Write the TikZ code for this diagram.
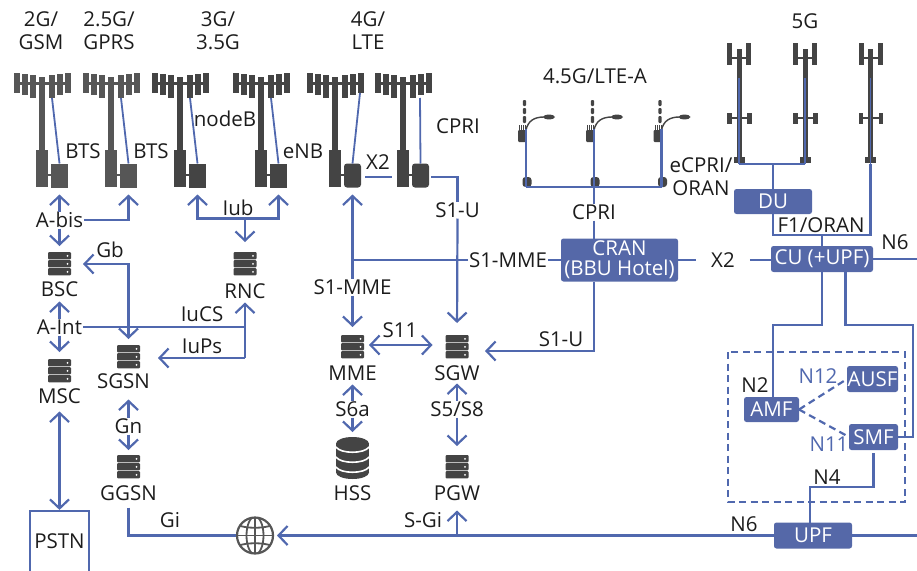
\documentclass[tikz,border=0pt]{standalone}
\usepackage{fontspec}
\setmainfont{Open Sans}
\usetikzlibrary{arrows.meta}
\definecolor{linkblue}{HTML}{5068AE}
\definecolor{boxblue}{HTML}{5568A8}
\definecolor{darkA}{HTML}{565656}
\definecolor{darkB}{HTML}{444444}
\definecolor{txtblack}{HTML}{1C1C1C}

\tikzset{
 link/.style={draw=linkblue,line width=2.2pt},
 lbl/.style={font=\fontsize{20.5}{24}\selectfont,text=txtblack,inner sep=1pt,outer sep=0pt,text height=14.5pt,text depth=0.5pt},
 ttl/.style={font=\fontsize{20.5}{23}\selectfont,text=txtblack,inner sep=0pt,align=center},
 blbl/.style={lbl,text=linkblue},
 fn/.style={fill=boxblue,rounded corners=2.5pt,text=white,inner sep=0pt,outer sep=0pt,font=\fontsize{20.5}{20}\selectfont,align=center},
 srv/.style={minimum width=23pt,minimum height=24pt,inner sep=0pt,outer sep=0pt,path picture={
   \foreach \k in {0,1,2}{
     \fill[darkB,rounded corners=1pt] ([shift={(-11.5,-12+8*\k)}]path picture bounding box.center) rectangle +(23,7.4);
     \fill[white] ([shift={(8,-8.2+8*\k)}]path picture bounding box.center) circle (1pt);
   }}},
 dbase/.style={minimum width=33pt,minimum height=42pt,inner sep=0pt,outer sep=0pt,path picture={
   \begin{scope}[shift={(path picture bounding box.center)}]
   \fill[darkB] (0,-14.5) ellipse (16.5pt and 6.5pt);
   \fill[darkB] (-16.5,-14.5) rectangle (16.5,14.5);
   \fill[darkB] (0,14.5) ellipse (16.5pt and 6.5pt);
   \foreach \h in {-11,-1,9}
     \draw[white,line width=1.6pt] (-16.5,\h) .. controls (-12,\h+7) and (12,\h+7) .. (16.5,\h);
   \end{scope}}},
 globeicon/.style={circle,draw=darkA,line width=2.2pt,minimum size=36pt,inner sep=0pt,outer sep=1pt,path picture={
   \begin{scope}[shift={(path picture bounding box.center)},darkA,line width=1.8pt]
   \draw (0,0) ellipse (8.5pt and 19pt);
   \draw (0,-19) -- (0,19);
   \draw (-19,0) -- (19,0);
   \draw (-16,-10) .. controls (-8,-7) and (8,-7) .. (16,-10);
   \draw (-16,10) .. controls (-8,7) and (8,7) .. (16,10);
   \end{scope}}},
 pics/macrotower/.style n args={2}{code={
   \fill[#1] (-3.3,4) rectangle (3.3,77);
   \fill[#1] (-6,77) rectangle (6,114);
   \fill[#1] (-28,9) rectangle (28,11.5);
   \fill[#1] (6,100.5) rectangle (10,102.5);
   \foreach \px in {-28,22.5}{\fill[#1] (\px,0) rectangle +(6,20);}
   \foreach \px in {-20,14.5}{\fill[#1] (\px,1) rectangle +(6,21);}
   \foreach \px in {-12.5,7}{\fill[#1] (\px,2) rectangle +(6,23);}
   \node[fill=#1,minimum width=17pt,minimum height=24pt,inner sep=0pt,outer sep=0pt,rounded corners=#2] (-box) at (17.5,102.5) {};
   \coordinate (-ant) at (10,25);
   \coordinate (-antb) at (17,25);
   \coordinate (-antc) at (25,20);
 }},
 pics/nrtower/.style={code={
   \fill[darkB] (-2.5,28) rectangle (2.5,120);
   \fill[darkB] (-2.5,6) rectangle (2.5,28);
   \fill[darkB] (-11.7,0) rectangle (-6.7,22);
   \fill[darkB] (7.3,0) rectangle (12.3,22);
   \fill[darkB] (-7,14) rectangle (7.5,16);
   \fill[darkB] (-12,70) rectangle (-7.3,81);
   \fill[darkB] (8,70) rectangle (12.7,81);
   \fill[darkB] (-7.5,74) rectangle (8,76);
   \fill[darkB] (-5.3,114) rectangle (5.7,120);
   \coordinate (-top) at (0,35);
   \coordinate (-base) at (0,121);
 }},
 pics/smallcell/.style={code={
   \fill[darkB,rounded corners=3pt] (-3.5,48) rectangle (5.5,58);
   \fill[darkB,rounded corners=1pt] (-8,1) rectangle (0,13);
   \foreach \px in {-7,-5,-3,-1}{\fill[darkB] (\px,-4) rectangle +(0.8,6);}
   \fill[darkB,rounded corners=1pt] (-3.2,-29) rectangle (0,-23);
   \fill[darkB,rounded corners=1pt] (-3.2,-21) rectangle (0,-15);
   \fill[darkB,rounded corners=1pt] (-3.2,-13) rectangle (0,-6);
   \draw[darkB,line width=1.4pt] (0,1) .. controls (2,-8) and (8,-12) .. (18,-12);
   \fill[darkB] (23,-12) ellipse (6pt and 2.4pt);
   \coordinate (-top) at (0,0);
   \coordinate (-base) at (0,58);
 }},
}

\begin{document}
\begin{tikzpicture}[x=1pt,y=-1pt,>={Straight Barb[length=9pt,width=19pt]}]
\useasboundingbox (0,0) rectangle (917,570);
%\draw[color=gray!20] (0,0) grid[step=100] (917,570);

% titles
\node[ttl] (ttlA) at (41,31) {2G/\\GSM};
\node[ttl] (ttlB) at (109,31) {2.5G/\\GPRS};
\node[ttl] (ttlC) at (218,31) {3G/\\3.5G};
\node[ttl] (ttlD) at (368,31) {4G/\\LTE};
\node[ttl] (ttlE) at (595,76) {4.5G/LTE-A};
\node[ttl] (ttlF) at (805,21) {5G};

% towers
\pic (btsA) at (42,73) {macrotower={darkA}{0pt}};
\pic (btsB) at (111,73) {macrotower={darkA}{0pt}};
\pic (nbA) at (180,73) {macrotower={darkB}{0pt}};
\pic (nbB) at (261,73) {macrotower={darkB}{0pt}};
\pic (enbA) at (335,73) {macrotower={darkB}{3pt}};
\pic (enbB) at (403,73) {macrotower={darkB}{3pt}};

\pic (scA) at (526,129) {smallcell};
\pic (scB) at (594,129) {smallcell};
\pic (scC) at (661.5,129) {smallcell};

\pic (nrA) at (739,43) {nrtower};
\pic (nrB) at (805,43) {nrtower};
\pic (nrC) at (870.5,43) {nrtower};

% feeders
\draw[link,line width=1.8pt] (btsA-ant) -- (btsA-box.north);
\draw[link,line width=1.8pt] (btsB-ant) -- (btsB-box.north);
\draw[link,line width=1.8pt] (nbA-ant) -- (nbA-box.north);
\draw[link,line width=1.8pt] (nbB-ant) -- (nbB-box.north);
\draw[link,line width=1.8pt] (enbA-antc) -- (enbA-box.north);
\draw[link,line width=1.8pt] (enbB-antb) -- (enbB-box.north);

% servers
\node[srv] (bsc) at (59.5,264) {};
\node[srv] (rnc) at (245,264) {};
\node[srv] (msc) at (59.5,371) {};
\node[srv] (sgsn) at (128.5,357) {};
\node[srv] (ggsn) at (128.5,467) {};
\node[srv] (mme) at (352.5,347) {};
\node[srv] (sgw) at (457,347) {};
\node[srv] (pgw) at (457,467) {};
\node[dbase] (hss) at (352.5,458) {};
\node[globeicon] (globe) at (255,535.5) {};

\node[lbl] (bsclbl) at (59.5,289) {BSC};
\node[lbl] (rnclbl) at (245,291) {RNC};
\node[lbl] (msclbl) at (59.5,396) {MSC};
\node[lbl] (sgsnlbl) at (123.5,381) {SGSN};
\node[lbl] (ggsnlbl) at (128.5,493) {GGSN};
\node[lbl] (mmelbl) at (352.5,373) {MME};
\node[lbl] (sgwlbl) at (457,373) {SGW};
\node[lbl] (pgwlbl) at (457,493) {PGW};
\node[lbl] (hsslbl) at (352.5,493) {HSS};
\node[draw=linkblue,line width=2.2pt,minimum width=59pt,minimum height=62pt,inner sep=0pt] (pstn) at (59.5,542) {};
\node[lbl] (pstnlbl) at (59.5,541) {PSTN};

% function boxes
\node[fn,minimum width=117pt,minimum height=43pt] (cran) at (619.5,260) {CRAN\\(BBU Hotel)};
\node[fn,minimum width=78pt,minimum height=25pt] (du) at (773,201.5) {DU};
\node[fn,minimum width=102pt,minimum height=26pt] (cu) at (822,259) {CU (+UPF)};
\node[fn,minimum width=55pt,minimum height=25pt] (amf) at (771.5,409.5) {AMF};
\node[fn,minimum width=51pt,minimum height=26pt] (ausf) at (872.5,379) {AUSF};
\node[fn,minimum width=49pt,minimum height=26pt] (smf) at (873.5,437) {SMF};
\node[fn,minimum width=78pt,minimum height=26pt] (upf) at (813,535.5) {UPF};

% interface labels
\node[lbl] (btslblA) at (83,151) {BTS};
\node[lbl] (btslblB) at (151,151) {BTS};
\node[lbl] (nodeb) at (225,119) {nodeB};
\node[lbl] (enblbl) at (303,151) {eNB};
\node[lbl] (cprilblA) at (458,126) {CPRI};
\node[lbl] (xtwoA) at (378,162) {X2};
\node[lbl] (abis) at (59.5,220) {A-bis};
\node[lbl] (iub) at (238,208) {Iub};
\node[lbl] (gb) at (110,250) {Gb};
\node[lbl] (aint) at (59.5,327) {A-Int};
\node[lbl] (iucs) at (202,314) {IuCS};
\node[lbl] (iups) at (202,346) {IuPs};
\node[lbl] (gn) at (128.5,426) {Gn};
\node[lbl] (gi) at (170,520) {Gi};
\node[lbl] (sonemmeA) at (352.5,287) {S1-MME};
\node[lbl] (sonemmeB) at (508,260) {S1-MME};
\node[lbl] (soneuA) at (457.5,210) {S1-U};
\node[lbl] (soneuB) at (561,339) {S1-U};
\node[lbl] (selev) at (400,330) {S11};
\node[lbl] (ssixa) at (352.5,409) {S6a};
\node[lbl] (sfive) at (457,409) {S5/S8};
\node[lbl] (sgi) at (423,520) {S-Gi};
\node[lbl] (cprilblB) at (594,212) {CPRI};
\node[lbl] (xtwoB) at (723,260) {X2};
\node[ttl] (ecpri) at (701,176.5) {eCPRI/\\ORAN};
\node[lbl] (fone) at (821,225) {F1/ORAN};
\node[lbl] (nsixA) at (895,242) {N6};
\node[lbl] (nsixB) at (744,524) {N6};
\node[lbl] (ntwo) at (755,385) {N2};
\node[lbl] (nfour) at (827,477) {N4};
\node[blbl] (ntwelve) at (818,376) {N12};
\node[blbl] (neleven) at (829,444) {N11};

% 2G and 3G links
\draw[link,->,shorten >=7pt] (abis.north) -- (btsA-box.south);
\draw[link,->,shorten >=6pt] (abis.south) -- (bsc.north);
\draw[link,->,shorten >=7pt] (abis.east) -| (btsB-box.south);
\coordinate (iubbus) at (245,218.5);
\draw[link,->,shorten >=7pt] (iubbus) -| (nbA-box.south);
\draw[link,->,shorten >=7pt] (iubbus) -| (nbB-box.south);
\draw[link,->,shorten >=10pt] (iubbus) -- (rnc.north);
\draw[link,<->,shorten <=12pt,shorten >=6pt] (bsc.east) -| (sgsn.north);
\draw[link,->,shorten >=4pt] (aint.north) -- (bsclbl.south);
\draw[link,->,shorten >=7pt] (aint.south) -- (msc.north);
\draw[link,->,shorten >=3pt] (aint.east) -| (rnclbl.south);
\coordinate (iupsbus) at (245,358);
\draw[link] (245,326) -- (iupsbus);
\draw[link,->,shorten >=18pt] (iupsbus) -- (iupsbus -| sgsn.east);
\draw[link,<->,shorten <=7pt] (msclbl.south) -- (pstn.north);
\draw[link,->,shorten >=10pt] (gn.north) -- (gn.north |- sgsnlbl.south);
\draw[link,->,shorten >=5pt] (gn.south) -- (ggsn.north);
\draw[link,shorten <=6pt] (ggsnlbl.south) |- (globe.west);

% 4G links
\draw[link,shorten <=4pt,shorten >=20pt] ([yshift=-1.5pt]enbA-box.east) -- ([yshift=-1.5pt]enbB-box.west);
\draw[link,shorten <=2pt] ([yshift=-1.5pt]enbB-box.east) -| (soneuA.north);
\draw[link,->,shorten >=12pt] (soneuA.south) -- (sgw.north);
\draw[link,->,shorten >=7pt] (sonemmeA.north) -- (enbA-box.south);
\draw[link] (sonemmeB.west) -- (sonemmeB.west -| sonemmeA.north);
\draw[link,->,shorten >=8pt] (sonemmeA.south) -- (mme.north);
\draw[link] (sonemmeB.east) -- (cran.west);
\draw[link,<->,shorten <=5pt,shorten >=13pt] ([yshift=2pt]mme.east) -- ([yshift=2pt]sgw.west);
\draw[link,->,shorten >=3pt] (ssixa.north) -- (mmelbl.south);
\draw[link,->,shorten >=5pt] (ssixa.south) -- (hss.north);
\draw[link,->,shorten >=2pt] (sfive.north) -- (sgwlbl.south);
\draw[link,->,shorten >=9pt] (sfive.south) -- (pgw.north);
\draw[link,->,shorten >=9pt] (pgwlbl.south |- globe) -- (pgwlbl.south);
\draw[link,->,shorten >=3pt] (upf.west) -- (globe.east);

% 4.5G links
\draw[link,line width=2.8pt] (scA-top) -- (scA-base);
\draw[link,line width=2.8pt] (scB-top) -- (scB-base);
\draw[link,line width=2.8pt] (scC-top) -- (scC-base);
\draw[link,line width=2.8pt] (scA-base) -- (scC-base);
\draw[link] (cprilblB.north) -- (cprilblB.north |- scB-base);
\draw[link] (cprilblB.south) -- (cprilblB.south |- cran.north);
\coordinate (sgwend) at (485,351);
\draw[link,->] (cprilblB.south |- cran.south) |- (sgwend);
\draw[link,shorten >=14pt] (cran.east) -- (xtwoB.west);
\draw[link,shorten <=14pt] (xtwoB.east) -- (xtwoB.east -| cu.west);

% 5G links
\draw[link,line width=2.4pt] (nrA-top) -- (nrA-base);
\draw[link,line width=2.4pt] (nrB-top) -- (nrB-base);
\draw[link,line width=1.4pt] (nrC-top) -- (nrC-base);
\draw[link] (nrA-base) -- (nrB-base);
\draw[link] (du.north) -- (du.north |- nrA-base);
\coordinate (fonebus) at (822,235);
\draw[link] (du.south) |- (fonebus) -| (nrC-base);
\draw[link] (fonebus) -- (cu.north);
\coordinate (eastA) at (917,259);
\draw[link] (cu.east) -- (eastA);
\coordinate (eastB) at (917,535.5);
\draw[link] (upf.east) -- (eastB);
\coordinate (amfbus) at (773,325);
\coordinate (smfbus) at (913,325);
\draw[link] (cu.south) |- (amfbus) -- (amfbus |- amf.north);
\draw[link] ([xshift=23.5pt]cu.south) |- (smfbus) |- (smf.east);
\coordinate (nfourbus) at (810,487);
\draw[link,shorten <=3pt] (smf.south) |- (nfourbus) -- (nfourbus |- upf.north);

% core box
\draw[link,dash pattern=on 7pt off 4.5pt] (728,352) rectangle (905,502);
\draw[link,dash pattern=on 7pt off 4.5pt] (amf.east) -- (ausf.west);
\draw[link,dash pattern=on 7pt off 4.5pt] (amf.east) -- (smf.west);
\end{tikzpicture}
\end{document}
